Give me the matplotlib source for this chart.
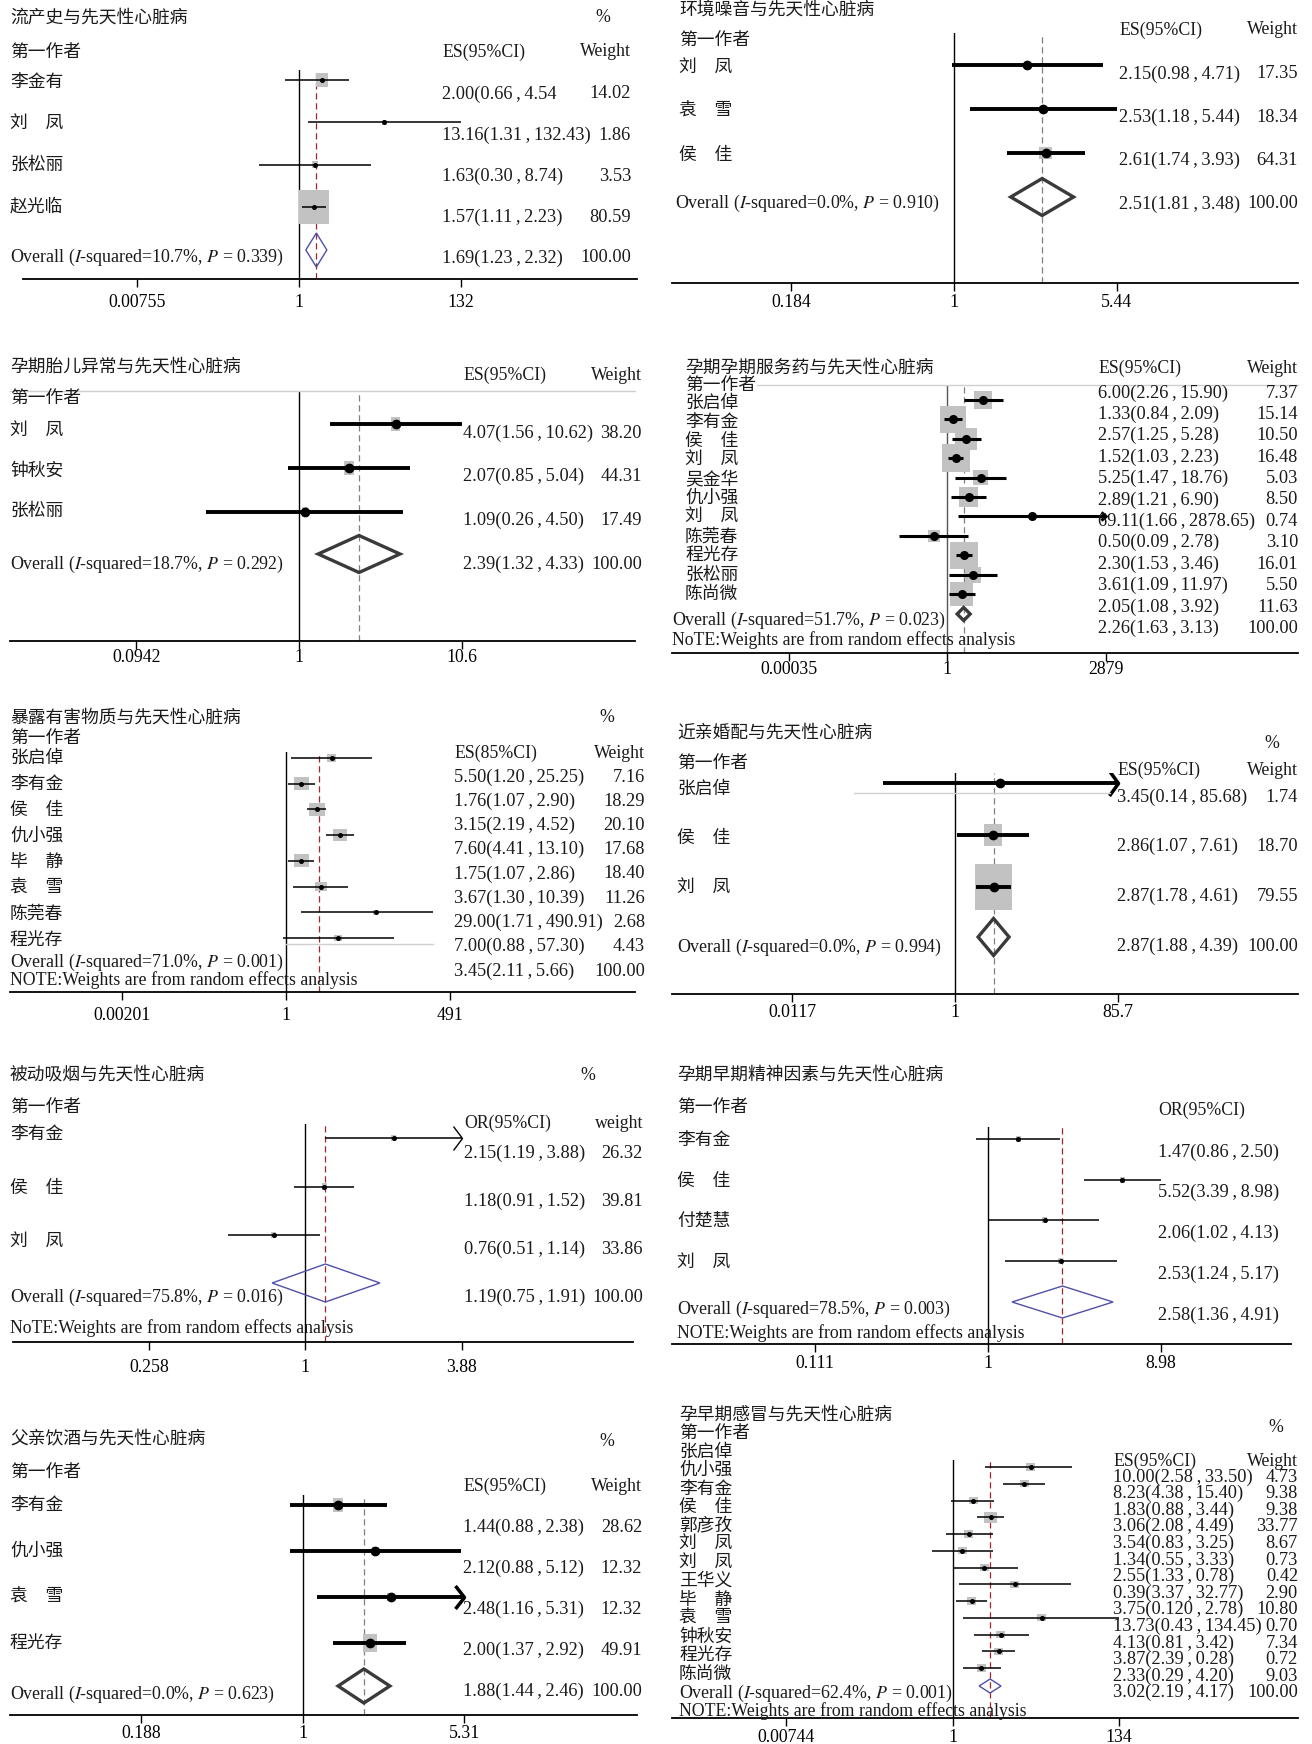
import numpy as np
import matplotlib.pyplot as plt
from matplotlib.patches import Polygon
from matplotlib.lines import Line2D
from matplotlib.ticker import NullLocator

plt.rcParams['font.family'] = ['Liberation Serif', 'Noto Sans CJK SC', 'DejaVu Sans']
plt.rcParams['mathtext.fontset'] = 'stix'

# ---------------- data ----------------
p1_title = '流产史与先天性心脏病'
p1_names = ['李金有', '刘　凤', '张松丽', '赵光临']
p1_est = [2.00, 13.16, 1.63, 1.57]
p1_lo = [0.66, 1.31, 0.30, 1.11]
p1_hi = [4.54, 132.43, 8.74, 2.23]
p1_wt = [14.02, 1.86, 3.53, 80.59]
p1_all = [1.69, 1.23, 2.32]
p1_es = ['2.00(0.66,4.54', '13.16(1.31,132.43)', '1.63(0.30,8.74)', '1.57(1.11,2.23)', '1.69(1.23,2.32)']
p1_wtxt = ['14.02', '1.86', '3.53', '80.59', '100.00']
p1_ticks = ['0.00755', '1', '132']
p1_ov = r'Overall ($\mathit{I}$-squared=10.7%, $\mathit{P}$ = 0.339)'

p2_title = '环境噪音与先天性心脏病'
p2_names = ['刘　凤', '袁　雪', '侯　佳']
p2_est = [2.15, 2.53, 2.61]
p2_lo = [0.98, 1.18, 1.74]
p2_hi = [4.71, 5.44, 3.93]
p2_wt = [17.35, 18.34, 64.31]
p2_all = [2.51, 1.81, 3.48]
p2_es = ['2.15(0.98,4.71)', '2.53(1.18,5.44)', '2.61(1.74,3.93)', '2.51(1.81,3.48)']
p2_wtxt = ['17.35', '18.34', '64.31', '100.00']
p2_ticks = ['0.184', '1', '5.44']
p2_ov = r'Overall ($\mathit{I}$-squared=0.0%, $\mathit{P}$ = 0.910)'

p3_title = '孕期胎儿异常与先天性心脏病'
p3_names = ['刘　凤', '钟秋安', '张松丽']
p3_est = [4.07, 2.07, 1.09]
p3_lo = [1.56, 0.85, 0.26]
p3_hi = [10.62, 5.04, 4.50]
p3_wt = [38.20, 44.31, 17.49]
p3_all = [2.39, 1.32, 4.33]
p3_es = ['4.07(1.56,10.62)', '2.07(0.85,5.04)', '1.09(0.26,4.50)', '2.39(1.32,4.33)']
p3_wtxt = ['38.20', '44.31', '17.49', '100.00']
p3_ticks = ['0.0942', '1', '10.6']
p3_ov = r'Overall ($\mathit{I}$-squared=18.7%, $\mathit{P}$ = 0.292)'

p4_title = '孕期孕期服务药与先天性心脏病'
p4_names = ['张启倬', '李有金', '侯　佳', '刘　凤', '吴金华', '仇小强', '刘　凤', '陈莞春', '程光存', '张松丽', '陈尚微']
p4_est = [6.00, 1.33, 2.57, 1.52, 5.25, 2.89, 69.11, 0.50, 2.30, 3.61, 2.05]
p4_lo = [2.26, 0.84, 1.25, 1.03, 1.47, 1.21, 1.66, 0.09, 1.53, 1.09, 1.08]
p4_hi = [15.90, 2.09, 5.28, 2.23, 18.76, 6.90, 2878.65, 2.78, 3.46, 11.97, 3.92]
p4_wt = [7.37, 15.14, 10.50, 16.48, 5.03, 8.50, 0.74, 3.10, 16.01, 5.50, 11.63]
p4_all = [2.26, 1.63, 3.13]
p4_es = ['6.00(2.26,15.90)', '1.33(0.84,2.09)', '2.57(1.25,5.28)', '1.52(1.03,2.23)', '5.25(1.47,18.76)',
         '2.89(1.21,6.90)', '69.11(1.66,2878.65)', '0.50(0.09,2.78)', '2.30(1.53,3.46)', '3.61(1.09,11.97)',
         '2.05(1.08,3.92)', '2.26(1.63,3.13)']
p4_wtxt = ['7.37', '15.14', '10.50', '16.48', '5.03', '8.50', '0.74', '3.10', '16.01', '5.50', '11.63', '100.00']
p4_ticks = ['0.00035', '1', '2879']
p4_ov = r'Overall ($\mathit{I}$-squared=51.7%, $\mathit{P}$ = 0.023)'

p5_title = '暴露有害物质与先天性心脏病'
p5_names = ['张启倬', '李有金', '侯　佳', '仇小强', '毕　静', '袁　雪', '陈莞春', '程光存']
p5_est = [5.50, 1.76, 3.15, 7.60, 1.75, 3.67, 29.00, 7.00]
p5_lo = [1.20, 1.07, 2.19, 4.41, 1.07, 1.30, 1.71, 0.88]
p5_hi = [25.25, 2.90, 4.52, 13.10, 2.86, 10.39, 252.0, 57.30]
p5_wt = [7.16, 18.29, 20.10, 17.68, 18.40, 11.26, 2.68, 4.43]
p5_all = [3.45, 2.11, 5.66]
p5_es = ['5.50(1.20,25.25)', '1.76(1.07,2.90)', '3.15(2.19,4.52)', '7.60(4.41,13.10)', '1.75(1.07,2.86)',
         '3.67(1.30,10.39)', '29.00(1.71,490.91)', '7.00(0.88,57.30)', '3.45(2.11,5.66)']
p5_wtxt = ['7.16', '18.29', '20.10', '17.68', '18.40', '11.26', '2.68', '4.43', '100.00']
p5_ticks = ['0.00201', '1', '491']
p5_ov = r'Overall ($\mathit{I}$-squared=71.0%, $\mathit{P}$ = 0.001)'

p6_title = '近亲婚配与先天性心脏病'
p6_names = ['张启倬', '侯　佳', '刘　凤']
p6_est = [3.45, 2.86, 2.87]
p6_lo = [0.14, 1.07, 1.78]
p6_hi = [85.68, 7.61, 4.61]
p6_wt = [1.74, 18.70, 79.55]
p6_all = [2.87, 1.88, 4.39]
p6_es = ['3.45(0.14,85.68)', '2.86(1.07,7.61)', '2.87(1.78,4.61)', '2.87(1.88,4.39)']
p6_wtxt = ['1.74', '18.70', '79.55', '100.00']
p6_ticks = ['0.0117', '1', '85.7']
p6_ov = r'Overall ($\mathit{I}$-squared=0.0%, $\mathit{P}$ = 0.994)'

p7_title = '被动吸烟与先天性心脏病'
p7_names = ['李有金', '侯　佳', '刘　凤']
p7_est = [2.15, 1.18, 0.76]
p7_lo = [1.19, 0.91, 0.51]
p7_hi = [3.88, 1.52, 1.14]
p7_wt = [26.32, 39.81, 33.86]
p7_all = [1.19, 0.75, 1.91]
p7_es = ['2.15(1.19,3.88)', '1.18(0.91,1.52)', '0.76(0.51,1.14)', '1.19(0.75,1.91)']
p7_wtxt = ['26.32', '39.81', '33.86', '100.00']
p7_ticks = ['0.258', '1', '3.88']
p7_ov = r'Overall ($\mathit{I}$-squared=75.8%, $\mathit{P}$ = 0.016)'

p8_title = '孕期早期精神因素与先天性心脏病'
p8_names = ['李有金', '侯　佳', '付楚慧', '刘　凤']
p8_est = [1.47, 5.52, 2.06, 2.53]
p8_lo = [0.86, 3.39, 1.02, 1.24]
p8_hi = [2.50, 8.98, 4.13, 5.17]
p8_all = [2.58, 1.36, 4.91]
p8_es = ['1.47(0.86,2.50)', '5.52(3.39,8.98)', '2.06(1.02,4.13)', '2.53(1.24,5.17)', '2.58(1.36,4.91)']
p8_ticks = ['0.111', '1', '8.98']
p8_ov = r'Overall ($\mathit{I}$-squared=78.5%, $\mathit{P}$ = 0.003)'

p9_title = '父亲饮酒与先天性心脏病'
p9_names = ['李有金', '仇小强', '袁　雪', '程光存']
p9_est = [1.44, 2.12, 2.48, 2.00]
p9_lo = [0.88, 0.88, 1.16, 1.37]
p9_hi = [2.38, 5.12, 5.31, 2.92]
p9_wt = [28.62, 12.32, 12.32, 49.91]
p9_all = [1.88, 1.44, 2.46]
p9_es = ['1.44(0.88,2.38)', '2.12(0.88,5.12)', '2.48(1.16,5.31)', '2.00(1.37,2.92)', '1.88(1.44,2.46)']
p9_wtxt = ['28.62', '12.32', '12.32', '49.91', '100.00']
p9_ticks = ['0.188', '1', '5.31']
p9_ov = r'Overall ($\mathit{I}$-squared=0.0%, $\mathit{P}$ = 0.623)'

p10_title = '孕早期感冒与先天性心脏病'
p10_names = ['张启倬', '仇小强', '李有金', '侯　佳', '郭彦孜', '刘　凤', '刘　凤', '王华义', '毕　静',
             '袁　雪', '钟秋安', '程光存', '陈尚微']
p10_est = [10.00, 8.23, 1.83, 3.06, 1.62, 1.34, 2.55, 6.20, 1.75, 13.73, 4.13, 3.87, 2.33]
p10_lo = [2.58, 4.38, 0.97, 2.08, 0.83, 0.55, 1.03, 1.20, 1.10, 1.35, 1.90, 2.39, 1.35]
p10_hi = [33.50, 15.40, 3.44, 4.49, 3.25, 3.33, 6.90, 32.77, 2.78, 134.45, 9.50, 6.20, 4.20]
p10_wt = [4.73, 9.38, 9.38, 33.77, 8.67, 0.73, 0.42, 2.90, 10.80, 0.70, 7.34, 0.72, 9.03]
p10_all = [3.02, 2.19, 4.17]
p10_es = ['10.00(2.58,33.50)', '8.23(4.38,15.40)', '1.83(0.88,3.44)', '3.06(2.08,4.49)', '3.54(0.83,3.25)',
          '1.34(0.55,3.33)', '2.55(1.33,0.78)', '0.39(3.37,32.77)', '3.75(0.120,2.78)', '13.73(0.43,134.45)',
          '4.13(0.81,3.42)', '3.87(2.39,0.28)', '2.33(0.29,4.20)', '3.02(2.19,4.17)']
p10_wtxt = ['4.73', '9.38', '9.38', '33.77', '8.67', '0.73', '0.42', '2.90', '10.80', '0.70', '7.34', '0.72',
            '9.03', '100.00']
p10_ticks = ['0.00744', '1', '134']
p10_ov = r'Overall ($\mathit{I}$-squared=62.4%, $\mathit{P}$ = 0.001)'

note_a = 'NoTE:Weights are from random effects analysis'
note_b = 'NOTE:Weights are from random effects analysis'

# ---------------- figure ----------------
W, H = 1312, 1744
FS_CJK, FS_NUM, FS_HEAD, FS_TICK, FS_OV = 12.8, 13.2, 12.8, 12.8, 12.9
fig = plt.figure(figsize=(W / 100, H / 100), dpi=100)
fig.patch.set_facecolor('white')


def txt(x, y, s, size=FS_CJK, ha='left'):
    fig.text(x / W, 1 - y / H, s, fontsize=size, ha=ha, va='center', color='#1a1a1a')


def forest(D, L):
    x0, x1, axy, top = L['x0'], L['x1'], L['axy'], L['top']
    ax = fig.add_axes([x0 / W, 1 - axy / H, (x1 - x0) / W, (axy - top) / H])
    ax.patch.set_alpha(0)
    tv = [float(t) for t in D['ticks']]
    tp = L['tpx']
    ppd = (tp[2] - tp[1]) / np.log10(tv[2])
    ax.set_xscale('log')
    ax.set_xlim(10 ** ((x0 - tp[1]) / ppd), 10 ** ((x1 - tp[1]) / ppd))
    y0, dy = L['rows']
    ax.set_ylim((axy - y0) / dy, (top - y0) / dy)

    thick = L['thick']
    est, lo, hi = np.array(D['est']), np.array(D['lo']), np.array(D['hi'])
    rows = np.arange(len(est))
    lw = L.get('lw', 2.8 if thick else 1.1)

    # weight boxes
    k, asp, mn = L['box']
    w = np.array(D['wt']) if D.get('wt') is not None else np.ones(len(est))
    wpx = np.maximum(k * np.sqrt(w), mn)
    hpx = wpx * asp
    big = np.maximum(wpx, hpx)
    a, b = 1.0, asp
    m = max(a, b)
    a, b = a / m, b / m
    rect = [(-a, -b), (a, -b), (a, b), (-a, b), (-a, -b)]
    ax.scatter(est, rows, s=(big * 0.72) ** 2, marker=rect, color='#c2c2c2', linewidths=0, zorder=2)

    ax.hlines(rows, lo, hi, colors='black', lw=lw, zorder=3)
    ax.plot(est, rows, ls='none', marker='o', ms=L.get('dot', 6 if thick else 2.6), color='black', zorder=4)

    for i in L.get('arrows', []):
        ah, aw = L['arrow']
        chev = [(-2 * aw / ah, 1), (0, 0), (-2 * aw / ah, -1)]
        ax.plot(hi[i], i, marker=chev, ms=ah * 0.72, mfc='none', mec='black', mew=lw * 0.9, zorder=4)

    ax.axvline(1, color=L.get('vcol', 'black'), lw=1.0, zorder=1)
    ax.axvline(D['all'][0], color='#808080' if thick else '#a3252c', lw=0.9, ls=(0, (5, 3)), zorder=1)

    if L['dia'] is not None:
        dpy, dh = L['dia']
        yd, hh = (dpy - y0) / dy, dh / dy
        e, l, h = D['all']
        ax.add_patch(Polygon([(l, yd), (e, yd - hh), (h, yd), (e, yd + hh)], closed=True, fill=False,
                             ec='#3a3a3a' if thick else '#4f4fa8', lw=2.4 if thick else 1.0,
                             joinstyle='miter', zorder=5))

    for s in ['top', 'left', 'right']:
        ax.spines[s].set_visible(False)
    ax.spines['bottom'].set_linewidth(1.3)
    ax.set_yticks([])
    ax.set_xticks(tv, D['ticks'])
    ax.xaxis.set_minor_locator(NullLocator())
    pad = max(0.0, (L['laby'] - axy - 8 - 8) * 0.72)
    ax.tick_params(axis='x', length=6, width=1, pad=pad, labelsize=FS_TICK)

    # texts
    txt(L['title'][0], L['title'][1], D['title'])
    if L.get('pct'):
        txt(L['pct'][0], L['pct'][1], '%', FS_HEAD)
    txt(L['auth'][0], L['auth'][1], '第一作者')
    txt(L['eh'][0], L['eh'][1], D['eh'], FS_HEAD)
    if D.get('wh'):
        txt(L['wh'][0], L['wh'][1], D['wh'], FS_HEAD, ha='right')
    nx, ny0, ndy = L['names']
    for i, nm in enumerate(D['names']):
        txt(nx, ny0 + i * ndy, nm)
    ex, ey0, edy, wx = L['es']
    for i, s in enumerate(D['es']):
        txt(ex, ey0 + i * edy, s.replace(',', '\u2009,\u2009'), FS_NUM)
        if D.get('wtxt'):
            txt(wx, ey0 + i * edy, D['wtxt'][i], FS_NUM, ha='right')
    txt(L['ov'][0], L['ov'][1], D['ov'], FS_OV)
    if L.get('note'):
        txt(L['note'][0], L['note'][1], D['note'], FS_HEAD)
    if L.get('gline'):
        gx0, gx1, gy = L['gline']
        fig.add_artist(Line2D([gx0 / W, gx1 / W], [1 - gy / H, 1 - gy / H], color='#d0d0d0', lw=1.0))
    return ax


def pack(p, eh='ES(95%CI)', wh='Weight', note=None, wt=True):
    g = globals()
    return dict(title=g[p + '_title'], names=g[p + '_names'], est=g[p + '_est'], lo=g[p + '_lo'],
                hi=g[p + '_hi'], wt=g[p + '_wt'] if wt else None, all=g[p + '_all'], es=g[p + '_es'],
                wtxt=g[p + '_wtxt'] if wt else None, ticks=g[p + '_ticks'], ov=g[p + '_ov'],
                eh=eh, wh=wh if wt else None, note=note)


L1 = dict(x0=23, x1=637, axy=279, top=70, tpx=(139, 299, 460.5), laby=302, rows=(80, 42.3), dia=(250, 17),
          thick=False, box=(3.4, 1.1, 5), title=(10, 18), pct=(595, 18), auth=(10, 52), eh=(442, 52),
          wh=(631, 52), names=(10, 83, 41.3), es=(442, 94, 41, 631), ov=(10, 257))
L2 = dict(x0=672, x1=1298, axy=283, top=33, tpx=(791, 953.7, 1116.5), laby=302, rows=(65, 44), dia=(197, 18.5),
          thick=True, box=(1.6, 1.0, 4), title=(679, 10), auth=(679, 40), eh=(1119, 30), wh=(1298, 30),
          names=(679, 68, 43.5), es=(1119, 74, 43.3, 1298), ov=(675, 203))
L3 = dict(x0=10, x1=635, axy=641, top=392, tpx=(136.3, 299, 461.7), laby=657, rows=(424, 44), dia=(554, 18.5),
          thick=True, box=(1.5, 1.5, 4), title=(10, 367), auth=(10, 398), eh=(463, 375), wh=(642, 375),
          names=(10, 431, 40), es=(463, 433, 43.7, 642), ov=(10, 564), gline=(10, 635, 391))
L4 = dict(x0=672, x1=1298, axy=653, top=385, tpx=(786, 947.4, 1106.4), laby=667, rows=(400, 19.4),
          dia=(614, 6.5), thick=True, lw=2.2, dot=5.5, box=(6.8, 1.0, 5), title=(685, 368), auth=(685, 385),
          eh=(1098, 368), wh=(1298, 368), names=(685, 403, 19.1), es=(1098, 393, 21.4, 1298), ov=(672, 620),
          note=(672, 640), gline=(757, 1298, 385), arrows=[6], arrow=(10, 6), vcol='#555555')
L5 = dict(x0=10, x1=635, axy=992, top=752, tpx=(123.6, 286.4, 450.4), laby=1015, rows=(758, 25.7), dia=None,
          thick=False, box=(3.5, 0.85, 5), title=(10, 718), pct=(599, 718), auth=(10, 738), eh=(454, 753),
          wh=(645, 753), names=(10, 758, 26), es=(454, 777, 24.25, 645), ov=(10, 962), note=(10, 980),
          gline=(286, 433, 944))
L6 = dict(x0=672, x1=1298, axy=994, top=773, tpx=(793.5, 955, 1117.7), laby=1012, rows=(783, 52),
          dia=(937, 18.5), thick=True, box=(4.2, 1.23, 5), title=(677, 733), pct=(1264, 743), auth=(677, 763),
          eh=(1117, 770), wh=(1298, 770), names=(677, 789, 49.5), es=(1117, 797, 49.7, 1298), ov=(677, 947),
          gline=(854, 1110, 793), arrows=[0], arrow=(25, 9))
L7 = dict(x0=13, x1=633, axy=1342, top=1124, tpx=(148.9, 305.3, 461.7), laby=1367, rows=(1138, 48.5),
          dia=(1283, 19), thick=False, box=(0.9, 1.2, 4), title=(10, 1075), pct=(580, 1075), auth=(10, 1107),
          eh=(464, 1123), wh=(643, 1123), names=(10, 1135, 53.5), es=(464, 1153, 48, 643), ov=(10, 1297),
          note=(10, 1328), arrows=[0], arrow=(24, 9))
L8 = dict(x0=672, x1=1291, axy=1344, top=1127, tpx=(811.2, 987.8, 1160.6), laby=1363, rows=(1139, 40.7),
          dia=(1302, 16), thick=False, box=(0, 1.2, 5), title=(677, 1075), auth=(677, 1107), eh=(1158, 1110),
          names=(677, 1141, 40.7), es=(1158, 1152, 40.75, None), ov=(677, 1309), note=(677, 1333))
L9 = dict(x0=10, x1=637, axy=1715, top=1495, tpx=(140, 302.8, 464.3), laby=1733, rows=(1505, 46),
          dia=(1686, 17), thick=True, box=(2.0, 1.27, 4), title=(10, 1439), pct=(599, 1441), auth=(10, 1472),
          eh=(463, 1486), wh=(642, 1486), names=(10, 1505, 46.3), es=(463, 1527, 41, 642), ov=(10, 1694),
          arrows=[2], arrow=(23, 9))
L10 = dict(x0=672, x1=1298, axy=1718, top=1460, tpx=(786, 952.5, 1119), laby=1737, rows=(1467, 16.75),
           dia=(1686, 7), thick=False, box=(2.4, 0.8, 9), title=(679, 1415), pct=(1268, 1427), auth=(679, 1433),
           eh=(1113, 1461), wh=(1298, 1461), names=(679, 1452, 18.5), es=(1113, 1477, 16.6, 1298),
           ov=(679, 1693), note=(679, 1711))

forest(pack('p1'), L1)
forest(pack('p2'), L2)
forest(pack('p3'), L3)
forest(pack('p4', note=note_a), L4)
forest(pack('p5', eh='ES(85%CI)', note=note_b), L5)
forest(pack('p6'), L6)
forest(pack('p7', eh='OR(95%CI)', wh='weight', note=note_a), L7)
forest(pack('p8', eh='OR(95%CI)', note=note_b, wt=False), L8)
forest(pack('p9'), L9)
forest(pack('p10', note=note_b), L10)

fig.savefig('out.png', dpi=100)
